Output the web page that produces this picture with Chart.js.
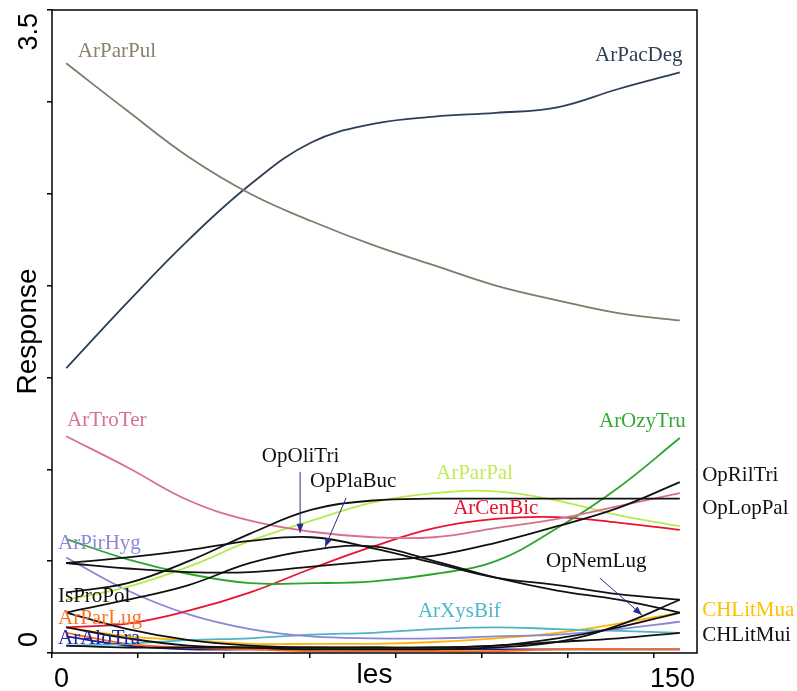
<!DOCTYPE html>
<html>
<head>
<meta charset="utf-8">
<script src="https://cdn.jsdelivr.net/npm/chart.js@4.4.1/dist/chart.umd.min.js"></script>
<style>
  html, body { margin: 0; padding: 0; background: #fff; }
</style>
</head>
<body>
<canvas id="chart" width="797" height="691"></canvas>
<script>
const les = [3.3, 17.6, 31.8, 46.1, 60.4, 74.7, 88.9, 103.2, 117.5, 131.7, 146.0];
const xTicks = [0, 20, 40, 60, 80, 100, 120, 140];
const yTicks = [0, 0.5, 1, 1.5, 2, 2.5, 3, 3.5];

const arParPul = [3.21, 2.95, 2.70, 2.50, 2.35, 2.22, 2.11, 2.00, 1.92, 1.85, 1.81];
const arPacDeg = [1.55, 1.91, 2.25, 2.55, 2.78, 2.88, 2.92, 2.94, 2.97, 3.07, 3.16];
const arTroTer = [1.18, 1.01, 0.83, 0.72, 0.66, 0.63, 0.63, 0.68, 0.73, 0.80, 0.87];
const arOzyTru = [0.62, 0.51, 0.43, 0.38, 0.38, 0.39, 0.43, 0.50, 0.68, 0.90, 1.17];
const arParPal = [0.29, 0.36, 0.47, 0.61, 0.72, 0.82, 0.87, 0.88, 0.83, 0.75, 0.69];
const arCenBic = [0.14, 0.16, 0.23, 0.33, 0.46, 0.58, 0.68, 0.73, 0.74, 0.71, 0.67];
const arPirHyg = [0.52, 0.34, 0.21, 0.13, 0.09, 0.08, 0.08, 0.09, 0.10, 0.13, 0.17];
const arXysBif = [0.04, 0.05, 0.07, 0.08, 0.10, 0.11, 0.13, 0.14, 0.13, 0.12, 0.11];
const chLitMua = [0.14, 0.09, 0.07, 0.05, 0.05, 0.05, 0.06, 0.08, 0.11, 0.16, 0.22];
const arParLug = [0.11, 0.05, 0.03, 0.02, 0.01, 0.01, 0.01, 0.01, 0.02, 0.02, 0.02];
const arAloTra = [0.09, 0.04, 0.02, 0.02, 0.02, 0.02, 0.02, 0.02, 0.02, 0.02, 0.02];
const opRilTri = [0.49, 0.46, 0.44, 0.44, 0.47, 0.50, 0.53, 0.60, 0.69, 0.79, 0.93];
const opOliTri = [0.49, 0.52, 0.56, 0.61, 0.63, 0.57, 0.49, 0.41, 0.37, 0.32, 0.29];
const opPlaBuc = [0.22, 0.29, 0.37, 0.49, 0.56, 0.58, 0.50, 0.41, 0.34, 0.29, 0.22];
const opLopPal = [0.33, 0.38, 0.50, 0.65, 0.78, 0.83, 0.84, 0.84, 0.84, 0.84, 0.84];
const isProPol = [0.22, 0.13, 0.07, 0.04, 0.03, 0.03, 0.03, 0.04, 0.08, 0.14, 0.22];
const opNemLug = [0.14, 0.08, 0.04, 0.03, 0.02, 0.02, 0.02, 0.03, 0.06, 0.15, 0.29];
const chLitMui = [0.04, 0.03, 0.03, 0.03, 0.03, 0.03, 0.03, 0.04, 0.06, 0.08, 0.11];

const series = {
    OpRilTri: opRilTri, OpOliTri: opOliTri, OpPlaBuc: opPlaBuc, OpLopPal: opLopPal,
    IsProPol: isProPol, OpNemLug: opNemLug, CHLitMui: chLitMui,
    ArParPul: arParPul, ArPacDeg: arPacDeg, ArTroTer: arTroTer, ArOzyTru: arOzyTru,
    ArParPal: arParPal, ArCenBic: arCenBic, ArPirHyg: arPirHyg, ArXysBif: arXysBif,
    CHLitMua: chLitMua, ArParLug: arParLug, ArAloTra: arAloTra
};

const lineColors = {
    ArParPul: '#85796a', ArPacDeg: '#2d3e56', ArTroTer: '#d8708c', ArOzyTru: '#2ba52b',
    ArParPal: '#b8ea50', ArCenBic: '#e8132f', ArPirHyg: '#8b86d8', ArXysBif: '#4bb5c9',
    CHLitMua: '#ffb400', ArParLug: '#ff6a1a', ArAloTra: '#1c1c8e'
};

// text labels, anchored in data units (left edge, baseline)
const speciesLabels = [
    { text: 'ArParPul', x: 6.0, y: 3.246, color: '#8c8070' },
    { text: 'ArPacDeg', x: 126.3, y: 3.224, color: '#2d3e56' },
    { text: 'ArTroTer', x: 3.5, y: 1.236, color: '#d9708a' },
    { text: 'OpOliTri', x: 48.8, y: 1.040, color: '#111' },
    { text: 'OpPlaBuc', x: 60.0, y: 0.904, color: '#111' },
    { text: 'ArParPal', x: 89.3, y: 0.948, color: '#c0ec58' },
    { text: 'ArCenBic', x: 93.3, y: 0.757, color: '#e8132f' },
    { text: 'ArOzyTru', x: 127.2, y: 1.231, color: '#33aa33' },
    { text: 'OpRilTri', x: 151.2, y: 0.937, color: '#111' },
    { text: 'OpLopPal', x: 151.2, y: 0.757, color: '#111' },
    { text: 'OpNemLug', x: 114.9, y: 0.468, color: '#111' },
    { text: 'ArXysBif', x: 85.1, y: 0.196, color: '#4cb8cc' },
    { text: 'CHLitMua', x: 151.2, y: 0.202, color: '#ffc000' },
    { text: 'CHLitMui', x: 151.2, y: 0.065, color: '#111' },
    { text: 'ArPirHyg', x: 1.4, y: 0.566, color: '#8c86d9' },
    { text: 'IsProPol', x: 1.4, y: 0.278, color: '#111' },
    { text: 'ArParLug', x: 1.4, y: 0.158, color: '#ff7324' },
    { text: 'ArAloTra', x: 1.4, y: 0.049, color: '#2222a0' }
];

const arrows = [
    { from: [57.7, 0.986], to: [57.7, 0.654] },
    { from: [68.4, 0.844], to: [63.5, 0.577] },
    { from: [127.4, 0.408], to: [137.2, 0.207] }
];

const datasets = Object.keys(series).map(name => ({
    label: name,
    data: les.map((x, i) => ({ x, y: series[name][i] })),
    borderColor: lineColors[name] || '#111',
    borderWidth: 1.8,
    pointRadius: 0,
    fill: false,
    tension: 0.4
}));

const plotText = {
    id: 'plotText',
    afterDraw(chart) {
        const { ctx, chartArea: a, scales: { x, y } } = chart;
        ctx.save();
        ctx.strokeStyle = '#000';
        ctx.lineWidth = 1.5;
        ctx.strokeRect(a.left, a.top, a.right - a.left, a.bottom - a.top);

        ctx.strokeStyle = '#2a2a90';
        ctx.fillStyle = '#2a2a90';
        ctx.lineWidth = 1;
        arrows.forEach(ar => {
            const x0 = x.getPixelForValue(ar.from[0]), y0 = y.getPixelForValue(ar.from[1]);
            const x1 = x.getPixelForValue(ar.to[0]), y1 = y.getPixelForValue(ar.to[1]);
            const ang = Math.atan2(y1 - y0, x1 - x0);
            ctx.beginPath();
            ctx.moveTo(x0, y0);
            ctx.lineTo(x1, y1);
            ctx.stroke();
            ctx.beginPath();
            ctx.moveTo(x1, y1);
            ctx.lineTo(x1 - 9 * Math.cos(ang) + 3.5 * Math.sin(ang), y1 - 9 * Math.sin(ang) - 3.5 * Math.cos(ang));
            ctx.lineTo(x1 - 9 * Math.cos(ang) - 3.5 * Math.sin(ang), y1 - 9 * Math.sin(ang) + 3.5 * Math.cos(ang));
            ctx.closePath();
            ctx.fill();
        });

        ctx.font = '21px "Liberation Serif", "Times New Roman", serif';
        ctx.textAlign = 'left';
        ctx.textBaseline = 'alphabetic';
        speciesLabels.forEach(l => {
            ctx.fillStyle = l.color;
            ctx.fillText(l.text, x.getPixelForValue(l.x), y.getPixelForValue(l.y));
        });

        // axis end labels
        ctx.fillStyle = '#000';
        ctx.font = '27px "Liberation Sans", Arial, sans-serif';
        ctx.textAlign = 'left';
        ctx.fillText('0', x.getPixelForValue(0) + 2, a.bottom + 34);
        ctx.textAlign = 'right';
        ctx.fillText('150', x.getPixelForValue(150) - 2, a.bottom + 34);

        ctx.save();
        ctx.translate(a.left - 15, y.getPixelForValue(0) - 6);
        ctx.rotate(-Math.PI / 2);
        ctx.textAlign = 'left';
        ctx.fillText('0', 0, 0);
        ctx.restore();
        ctx.save();
        ctx.translate(a.left - 15, y.getPixelForValue(3.5) + 3);
        ctx.rotate(-Math.PI / 2);
        ctx.textAlign = 'right';
        ctx.fillText('3.5', 0, 0);
        ctx.restore();
        ctx.restore();
    }
};

new Chart(document.getElementById('chart'), {
    type: 'line',
    data: { datasets },
    options: {
        responsive: false,
        devicePixelRatio: 1,
        animation: false,
        layout: { padding: { top: 10, right: 100, left: 0, bottom: 0 } },
        plugins: {
            legend: { display: false },
            tooltip: { enabled: false }
        },
        scales: {
            x: {
                type: 'linear',
                min: 0,
                max: 150,
                afterBuildTicks: axis => { axis.ticks = xTicks.map(v => ({ value: v })); },
                afterFit: axis => { axis.height = 38; },
                ticks: { display: false },
                border: { display: false },
                grid: { drawOnChartArea: false, drawTicks: true, tickLength: 5, color: '#000', lineWidth: 1.5 },
                title: {
                    display: true,
                    text: 'les',
                    color: '#000',
                    font: { family: '"Liberation Sans", Arial, sans-serif', size: 28, lineHeight: 1.15 },
                    padding: { top: 0, bottom: 0 }
                }
            },
            y: {
                min: 0,
                max: 3.5,
                afterBuildTicks: axis => { axis.ticks = yTicks.map(v => ({ value: v })); },
                afterFit: axis => { axis.width = 52; },
                ticks: { display: false },
                border: { display: false },
                grid: { drawOnChartArea: false, drawTicks: true, tickLength: 5, color: '#000', lineWidth: 1.5 },
                title: {
                    display: true,
                    text: 'Response',
                    color: '#000',
                    font: { family: '"Liberation Sans", Arial, sans-serif', size: 28, lineHeight: 1.2 },
                    padding: { top: 11, bottom: 0 }
                }
            }
        }
    },
    plugins: [plotText]
});
</script>
</body>
</html>
